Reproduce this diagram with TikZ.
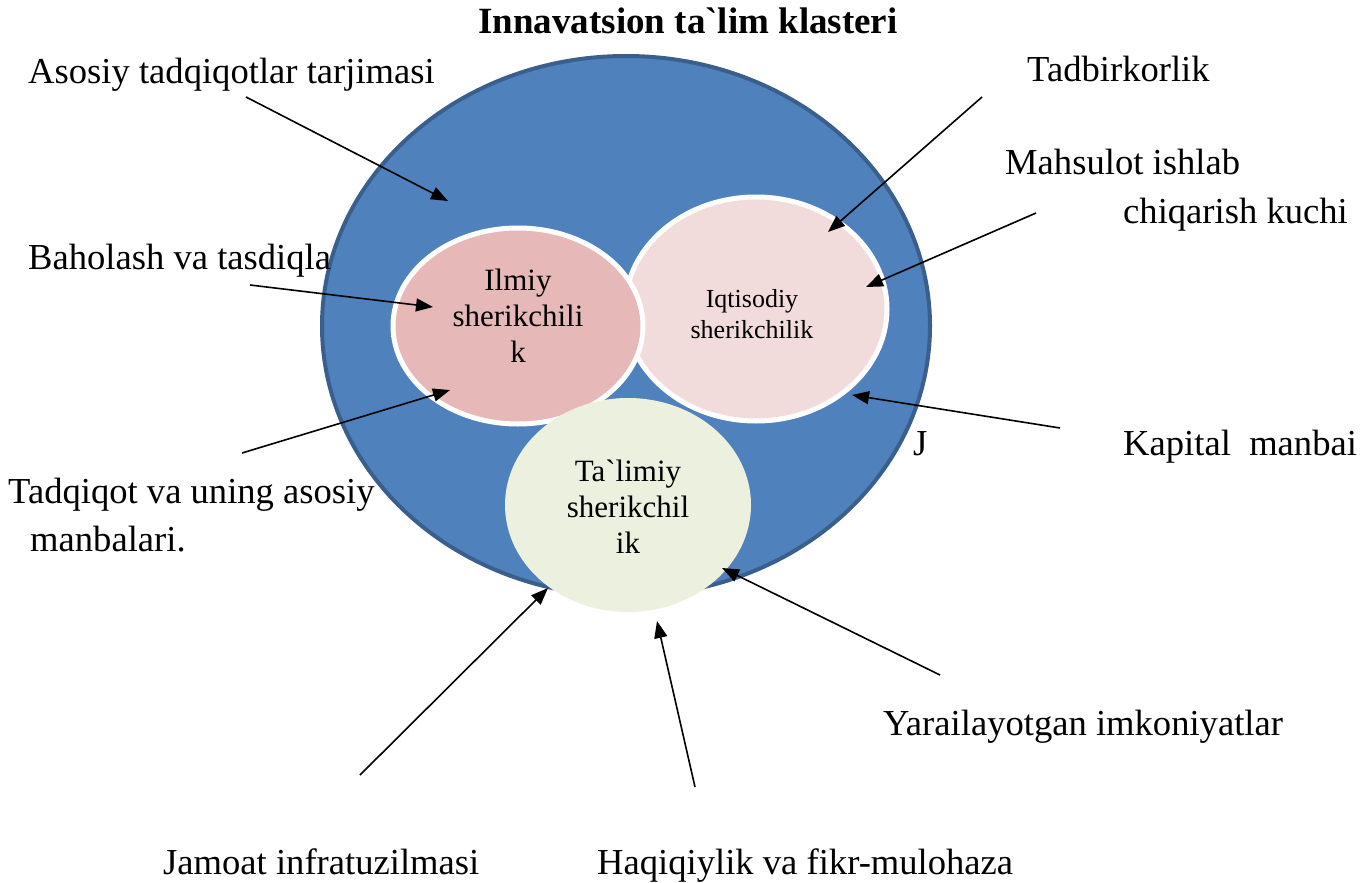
\documentclass[tikz,border=0pt]{standalone}
\usepackage{fontspec}
\setmainfont{Liberation Serif}
\usetikzlibrary{shapes.geometric,arrows.meta}
\definecolor{outerfill}{HTML}{4F81BD}
\definecolor{outerline}{HTML}{3B5F8C}
\definecolor{ilmfill}{HTML}{E6B8B7}
\definecolor{iqtfill}{HTML}{F2DCDB}
\definecolor{talfill}{HTML}{EBF1DE}
\begin{document}
\begin{tikzpicture}[x=1pt,y=-1pt,
  lbl/.style={font=\fontsize{36.6}{42}\selectfont, inner sep=0pt, anchor=mid west},
  inner/.style={ellipse, draw=white, line width=5pt, inner sep=0pt},
  intext/.style={inner sep=0pt, align=center, anchor=center},
  arr/.style={line width=1.6pt, -{Triangle[length=17pt,width=13pt]}}]
\useasboundingbox (0,0) rectangle (1368,883);
% outer circle
\node[ellipse, minimum width=608pt, minimum height=540pt, fill=outerfill, draw=outerline, line width=4pt] (big) at (626,326) {};
% inner ellipses
\node[inner, fill=iqtfill, minimum width=262pt, minimum height=224pt] (iqt) at (756,309) {};
\node[inner, fill=ilmfill, minimum width=250pt, minimum height=196pt] (ilm) at (518,326) {};
\node[ellipse, fill=talfill, minimum width=246pt, minimum height=214pt, inner sep=0pt] (tal) at (628,505) {};
\node[intext, font=\fontsize{26}{31}\selectfont] (iqttext) at (752,314) {Iqtisodiy\\sherikchilik};
\node[intext, font=\fontsize{31}{36}\selectfont] (ilmtext) at (518,316) {Ilmiy\\sherikchili\\k};
\node[intext, font=\fontsize{31}{36}\selectfont] (taltext) at (628,507) {Ta\textasciigrave limiy\\sherikchil\\ik};
% title
\node[font=\bfseries\fontsize{37}{42}\selectfont, inner sep=0pt, anchor=mid] (title) at (688,31) {Innavatsion ta\textasciigrave lim klasteri};
% labels
\node[lbl] (l1) at (28,81) {Asosiy tadqiqotlar tarjimasi};
\node[lbl] (l2) at (1027,79) {Tadbirkorlik};
\node[lbl] (l3) at (1005,172) {Mahsulot ishlab};
\node[lbl] (l3b) at (1123,221) {chiqarish kuchi};
\node[lbl] (l4) at (28,267) {Baholash va tasdiqla};
\node[lbl] (l5) at (8,501) {Tadqiqot va uning asosiy};
\node[lbl] (l5b) at (30,549) {manbalari.};
\node[lbl] (l6) at (1123,453) {Kapital\ \ manbai};
\node[lbl] (lj) at (913,453) {J};
\node[lbl] (l7) at (883,733) {Yarailayotgan imkoniyatlar};
\node[lbl] (l8) at (163,872) {Jamoat infratuzilmasi};
\node[lbl] (l9) at (597,872) {Haqiqiylik va fikr-mulohaza};
% arrow endpoints
\coordinate (s1) at (246,97);   \coordinate (t1) at (448,201);
\coordinate (s2) at (982,97);   \coordinate (t2) at (828,232);
\coordinate (s3) at (1036,213); \coordinate (t3) at (866,287);
\coordinate (s4) at (250,285);  \coordinate (t4) at (433,307);
\coordinate (s5) at (242,453);  \coordinate (t5) at (450,390);
\coordinate (s6) at (1060,428); \coordinate (t6) at (852,395);
\coordinate (s7) at (360,775);  \coordinate (t7) at (548,588);
\coordinate (s8) at (695,787);  \coordinate (t8) at (657,621);
\coordinate (s9) at (940,675);  \coordinate (t9) at (722,568);
\foreach \i in {1,...,9} {\draw[arr] (s\i) -- (t\i);}
\end{tikzpicture}
\end{document}
